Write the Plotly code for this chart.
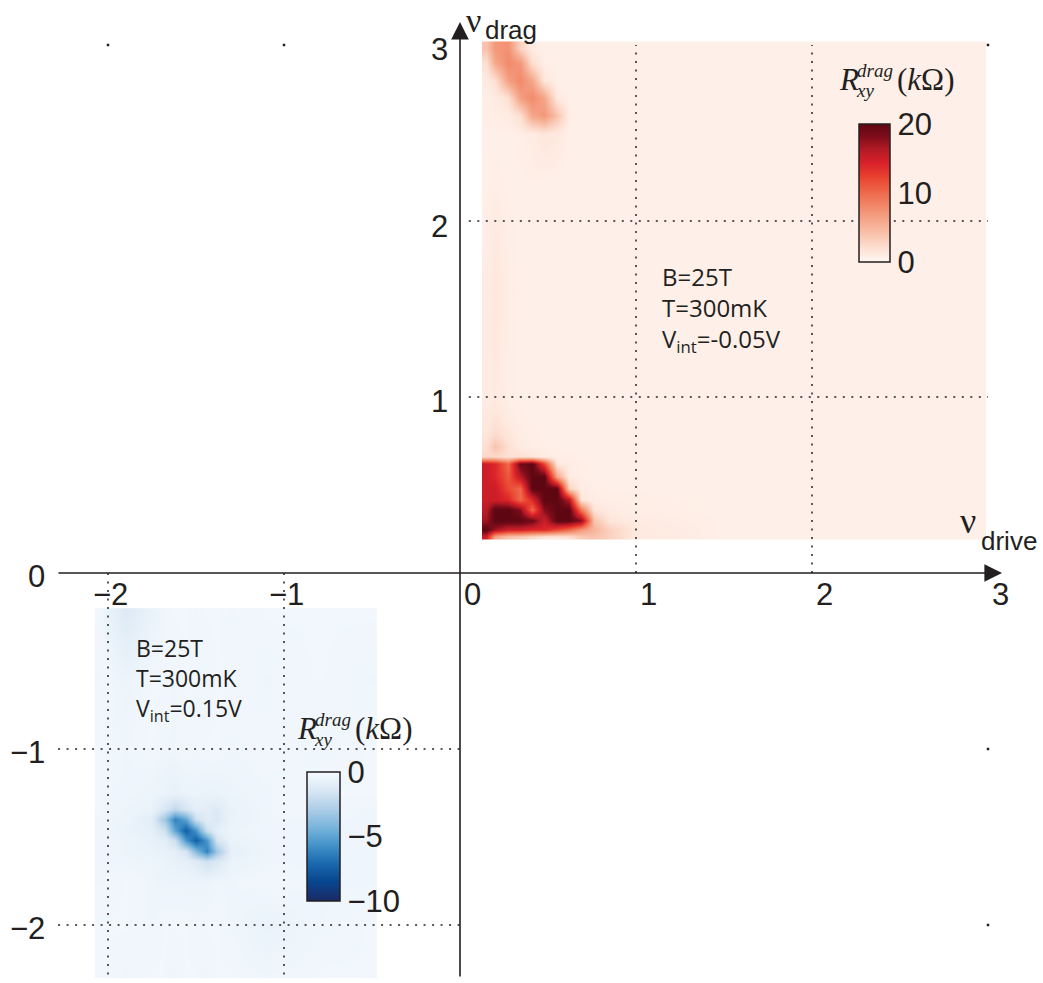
import plotly.graph_objects as go

# ---------------- data ----------------
# upper-right panel: R_xy^drag (kOhm), V_int = -0.05 V
X_RED = [0.15, 0.20, 0.27, 0.34, 0.41, 0.48, 0.55, 0.62, 0.69, 0.76, 0.85, 1.0, 1.5, 2.0, 2.5, 2.96, 2.98]
Y_RED = [0.21, 0.25, 0.30, 0.36, 0.42, 0.48, 0.55, 0.62, 0.66, 0.72, 0.78, 0.88, 1.0, 1.3, 1.6, 1.9,
         2.2, 2.5, 2.6, 2.7, 2.8, 2.9, 2.98]
Z_RED = [
    [15, 6, 4, 3.5, 2.5, 1.5, 1.5, 2, 3.5, 4, 3, 1.2, 0.7, 0.6, 0.6, 0.6, 0.6],
    [20, 17, 15, 15, 14, 14, 12, 10, 7, 5, 3, 1.2, 0.7, 0.6, 0.6, 0.6, 0.6],
    [17, 20, 20, 20, 19, 15, 20, 20, 18, 4, 1.5, 1, 0.7, 0.6, 0.6, 0.6, 0.6],
    [16, 20, 20, 18, 10, 18, 20, 20, 9, 1.5, 1, 0.8, 0.7, 0.6, 0.6, 0.6, 0.6],
    [15, 15, 14, 10, 14, 20, 20, 16, 1.5, 0.9, 0.8, 0.8, 0.7, 0.6, 0.6, 0.6, 0.6],
    [15, 15, 12, 10, 20, 20, 20, 3, 1, 0.8, 0.7, 0.7, 0.6, 0.6, 0.6, 0.6, 0.6],
    [15, 14, 11, 16, 20, 20, 6, 1, 0.8, 0.7, 0.7, 0.7, 0.6, 0.6, 0.6, 0.6, 0.6],
    [15, 14, 10, 19, 20, 12, 1.2, 0.9, 0.8, 0.7, 0.7, 0.7, 0.6, 0.6, 0.6, 0.6, 0.6],
    [2.5, 2.5, 2, 2, 1.5, 1, 0.8, 0.8, 0.7, 0.7, 0.7, 0.6, 0.6, 0.6, 0.6, 0.6, 0.6],
    [2, 4, 2, 1, 0.8, 0.8, 0.7, 0.7, 0.7, 0.7, 0.6, 0.6, 0.6, 0.6, 0.6, 0.6, 0.6],
    [1.5, 2.5, 1.5, 0.9, 0.8, 0.7, 0.7, 0.7, 0.7, 0.6, 0.6, 0.6, 0.6, 0.6, 0.6, 0.6, 0.6],
    [1.2, 1.6, 1, 0.8, 0.7, 0.7, 0.7, 0.7, 0.6, 0.6, 0.6, 0.6, 0.6, 0.6, 0.6, 0.6, 0.6],
    [1, 1.1, 0.8, 0.7, 0.7, 0.7, 0.7, 0.6, 0.6, 0.6, 0.6, 0.6, 0.6, 0.6, 0.6, 0.6, 0.6],
    [1, 1.3, 0.8, 0.7, 0.7, 0.7, 0.6, 0.6, 0.6, 0.6, 0.6, 0.6, 0.6, 0.6, 0.6, 0.6, 0.6],
    [1, 1.4, 0.9, 0.7, 0.7, 0.7, 0.6, 0.6, 0.6, 0.6, 0.6, 0.6, 0.6, 0.6, 0.6, 0.6, 0.6],
    [0.8, 1.2, 0.8, 0.7, 0.7, 0.6, 0.6, 0.6, 0.6, 0.6, 0.6, 0.6, 0.6, 0.6, 0.6, 0.6, 0.6],
    [0.7, 0.8, 0.7, 0.7, 0.7, 0.6, 0.6, 0.6, 0.6, 0.6, 0.6, 0.6, 0.6, 0.6, 0.6, 0.6, 0.6],
    [0.7, 0.7, 0.7, 0.8, 1, 1.5, 1.2, 0.7, 0.6, 0.6, 0.6, 0.6, 0.6, 0.6, 0.6, 0.6, 0.6],
    [0.8, 0.8, 1, 2, 6, 7, 4, 0.8, 0.7, 0.6, 0.6, 0.6, 0.6, 0.6, 0.6, 0.6, 0.6],
    [0.8, 1, 2, 6.5, 8, 6, 1.2, 0.7, 0.6, 0.6, 0.6, 0.6, 0.6, 0.6, 0.6, 0.6, 0.6],
    [1, 2, 6.5, 8, 6, 1.5, 0.7, 0.6, 0.6, 0.6, 0.6, 0.6, 0.6, 0.6, 0.6, 0.6, 0.6],
    [2, 6, 8, 7, 2, 0.8, 0.7, 0.6, 0.6, 0.6, 0.6, 0.6, 0.6, 0.6, 0.6, 0.6, 0.6],
    [4, 7, 7.5, 3, 1, 0.7, 0.6, 0.6, 0.6, 0.6, 0.6, 0.6, 0.6, 0.6, 0.6, 0.6, 0.6],
]

# lower-left panel: R_xy^drag (kOhm), V_int = 0.15 V
X_BLUE = [-2.06, -2.03, -1.9, -1.75, -1.68, -1.62, -1.56, -1.50, -1.44, -1.38, -1.30, -1.1, -0.8, -0.5, -0.48]
Y_BLUE = [-2.29, -2.27, -2.0, -1.75, -1.64, -1.58, -1.52, -1.46, -1.40, -1.34, -1.25, -1.0, -0.6, -0.23, -0.21]
Z_BLUE = [
    [-0.3, -0.3, -0.4, -0.3, -0.3, -0.4, -0.3, -0.3, -0.4, -0.3, -0.3, -0.4, -0.3, -0.3, -0.3],
    [-0.3, -0.3, -0.4, -0.3, -0.3, -0.4, -0.3, -0.3, -0.4, -0.3, -0.3, -0.4, -0.3, -0.3, -0.3],
    [-0.3, -0.3, -0.3, -0.4, -0.3, -0.3, -0.3, -0.4, -0.3, -0.3, -0.4, -0.6, -0.4, -0.3, -0.3],
    [-0.4, -0.4, -0.3, -0.4, -0.5, -0.5, -0.5, -0.5, -0.5, -0.4, -0.4, -0.3, -0.4, -0.4, -0.4],
    [-0.4, -0.4, -0.4, -0.5, -0.6, -0.7, -0.8, -1.1, -1.7, -1.3, -0.6, -0.4, -0.4, -0.4, -0.4],
    [-0.4, -0.4, -0.5, -0.6, -0.7, -0.9, -1.5, -4.0, -6.2, -3.2, -0.8, -0.4, -0.4, -0.4, -0.4],
    [-0.4, -0.4, -0.5, -0.7, -0.9, -1.8, -5.5, -7.5, -5.5, -1.5, -0.6, -0.4, -0.4, -0.4, -0.4],
    [-0.4, -0.4, -0.6, -0.8, -1.8, -5.0, -7.5, -5.5, -1.8, -0.8, -0.5, -0.4, -0.4, -0.4, -0.4],
    [-0.4, -0.4, -0.5, -1.0, -3.3, -6.2, -5.0, -1.8, -1.0, -1.3, -0.6, -0.4, -0.4, -0.4, -0.4],
    [-0.3, -0.4, -0.5, -0.6, -1.4, -2.3, -1.5, -0.9, -1.0, -1.2, -0.6, -0.4, -0.3, -0.4, -0.4],
    [-0.3, -0.4, -0.4, -0.5, -0.6, -0.7, -0.6, -0.5, -0.6, -0.6, -0.5, -0.4, -0.3, -0.3, -0.3],
    [-0.3, -0.3, -0.4, -0.3, -0.4, -0.4, -0.3, -0.4, -0.3, -0.3, -0.4, -0.3, -0.4, -0.3, -0.3],
    [-0.4, -0.3, -0.5, -0.3, -0.3, -0.4, -0.3, -0.3, -0.4, -0.3, -0.3, -0.4, -0.3, -0.4, -0.4],
    [-0.3, -0.4, -1.2, -0.6, -0.4, -0.3, -0.3, -0.4, -0.3, -0.3, -0.4, -0.3, -0.3, -0.3, -0.3],
    [-0.3, -0.4, -1.2, -0.6, -0.4, -0.3, -0.3, -0.4, -0.3, -0.3, -0.4, -0.3, -0.3, -0.3, -0.3],
]

RED_TICKS = [0, 10, 20]
RED_TICK_TEXT = ["0", "10", "20"]
BLUE_TICKS = [-10, -5, 0]
BLUE_TICK_TEXT = ["\u221210", "\u22125", "0"]

X_TICKS_POS = [0, 1, 2, 3]
X_TICKS_NEG = [-2, -1]
Y_TICKS_POS = [1, 2, 3]
Y_TICKS_NEG = [-2, -1, 0]

GRID_UR = [1, 2]      # dotted grid in the upper-right quadrant
GRID_LL = [-1, -2]    # dotted grid in the lower-left quadrant

INFO_UR = ["B=25T", "T=300mK", "V<sub>int</sub>=-0.05V"]
INFO_LL = ["B=25T", "T=300mK", "V<sub>int</sub>=0.15V"]

# ---------------- layout helpers ----------------
W, H = 1043, 983
OX, OY, PPU = 460.0, 573.0, 176.0          # pixel of origin, pixels per unit
XR = [-OX / PPU, (W - OX) / PPU]
YR = [-(H - OY) / PPU, OY / PPU]
INK = "#231f20"
SANS = "Liberation Sans, Arial, Helvetica, sans-serif"
SERIF = "Liberation Serif, Times New Roman, serif"
TXT = "Open Sans, Myriad Pro, sans-serif"
TICK_SIZE = 31


def pp(xp, yp):
    return xp / W, 1 - yp / H


REDS = [[0, "#fff7f3"], [0.1, "#fde0d3"], [0.25, "#f7b59b"], [0.4, "#f28a6b"], [0.5, "#ee6a4c"],
        [0.62, "#e8402f"], [0.72, "#d8202a"], [0.82, "#b01a24"], [0.91, "#7e0c1a"], [1, "#5e0712"]]
BLUES = [[0, "#1a2a64"], [0.15, "#08468f"], [0.3, "#1b6bb0"], [0.45, "#4a97cb"], [0.55, "#72b0da"],
         [0.7, "#a9cce6"], [0.85, "#d7e6f3"], [1, "#f7fbff"]]

fig = go.Figure()

cbx, cby = pp(859, 124)
fig.add_trace(go.Heatmap(
    x=X_RED, y=Y_RED, z=Z_RED, zmin=0, zmax=20, colorscale=REDS, zsmooth="best",
    hoverinfo="skip",
    colorbar=dict(x=cbx, xanchor="left", y=cby, yanchor="top", xpad=0, ypad=0,
                  lenmode="pixels", len=138, thicknessmode="pixels", thickness=31,
                  outlinecolor=INK, outlinewidth=1.5, tickvals=RED_TICKS, ticktext=RED_TICK_TEXT,
                  ticks="", tickfont=dict(family=SANS, size=TICK_SIZE, color=INK)),
))
cbx, cby = pp(307, 772)
fig.add_trace(go.Heatmap(
    x=X_BLUE, y=Y_BLUE, z=Z_BLUE, zmin=-10, zmax=0, colorscale=BLUES, zsmooth="best",
    hoverinfo="skip",
    colorbar=dict(x=cbx, xanchor="left", y=cby, yanchor="top", xpad=0, ypad=0,
                  lenmode="pixels", len=129, thicknessmode="pixels", thickness=33,
                  outlinecolor=INK, outlinewidth=1.5, tickvals=BLUE_TICKS, ticktext=BLUE_TICK_TEXT,
                  ticks="", tickfont=dict(family=SANS, size=TICK_SIZE, color=INK)),
))

# dotted grid lines
gx, gy = [], []
for g in GRID_UR:
    gx += [g, g, None]; gy += [0, 3, None]
    gx += [0.05, 3, None]; gy += [g, g, None]
for g in GRID_LL:
    gx += [g, g, None]; gy += [0, YR[0] + 0.02, None]
    gx += [XR[0] + 0.33, 0, None]; gy += [g, g, None]
fig.add_trace(go.Scatter(x=gx, y=gy, mode="lines", hoverinfo="skip", showlegend=False,
                         line=dict(color=INK, width=1.5, dash="2px,6.5px")))
# stray grid-end dots
fig.add_trace(go.Scatter(x=[-2, -1, 3, 3, 3], y=[3, 3, 3, -1, -2], mode="markers", hoverinfo="skip",
                         showlegend=False, marker=dict(symbol="square", size=2.5, color=INK, line=dict(width=0))))

ann = []
# axes with arrows
ann.append(dict(x=(1002 - OX) / PPU, y=0, ax=(57 - OX) / PPU, ay=0, xref="x", yref="y", axref="x", ayref="y",
                text="", showarrow=True, arrowhead=2, arrowsize=2.2, arrowwidth=1.6, arrowcolor=INK, standoff=0))
ann.append(dict(x=0, y=(OY - 22) / PPU, ax=0, ay=(OY - 978) / PPU, xref="x", yref="y", axref="x", ayref="y",
                text="", showarrow=True, arrowhead=2, arrowsize=2.2, arrowwidth=1.6, arrowcolor=INK, standoff=0))


def label(text, xp, yp, size=TICK_SIZE, family=SANS, xanchor="center", italic=False, yanchor="middle"):
    x, y = pp(xp, yp)
    if italic:
        text = "<i>" + text + "</i>"
    ann.append(dict(x=x, y=y, xref="paper", yref="paper", text=text, showarrow=False, align="left",
                    xanchor=xanchor, yanchor=yanchor, font=dict(family=family, size=size, color=INK)))


for t in X_TICKS_POS:
    label(str(t), OX + t * PPU + 12, 594)
for t in X_TICKS_NEG:
    label("\u2212" + str(-t), OX + t * PPU + 2, 594)
for t in Y_TICKS_POS:
    label(str(t), 450, OY - t * PPU + 5, xanchor="right")
for t in Y_TICKS_NEG:
    label(("\u2212" + str(-t)) if t < 0 else str(t), 47, OY - t * PPU + 3, xanchor="right")

# axis names
label("\u03bd", 473, 0, size=34, family=SERIF, yanchor="top")
label("drag", 483, 30, size=26, xanchor="left")
label("\u03bd", 968, 521, size=36, family=SERIF)
label("drive", 979, 541, size=26, xanchor="left")

# info text (one block each)
label("<br>".join(INFO_UR), 660, 258, size=24, family=TXT, xanchor="left", yanchor="top")
label("<br>".join(INFO_LL), 134, 630, size=23, family=TXT, xanchor="left", yanchor="top")


# colorbar titles  R_xy^drag (kOhm)
def cbtitle(xl, yc):
    label("R", xl, yc, size=31, family=SERIF, xanchor="left", italic=True)
    label("drag", xl + 18, yc - 9, size=19, family=SERIF, xanchor="left", italic=True)
    label("xy", xl + 17, yc + 11, size=19, family=SERIF, xanchor="left", italic=True)
    label("(<i>k</i>\u03a9)", xl + 58, yc, size=31, family=SERIF, xanchor="left")


cbtitle(837, 79)
cbtitle(295, 728)

fig.update_layout(
    width=W, height=H, margin=dict(l=0, r=0, t=0, b=0, pad=0, autoexpand=False),
    paper_bgcolor="white", plot_bgcolor="white", showlegend=False,
    xaxis=dict(range=XR, visible=False, fixedrange=True),
    yaxis=dict(range=YR, visible=False, fixedrange=True),
    annotations=ann,
)

fig.write_html("out.html", config={"displayModeBar": False},
               post_script="document.body.style.margin='0px';")
